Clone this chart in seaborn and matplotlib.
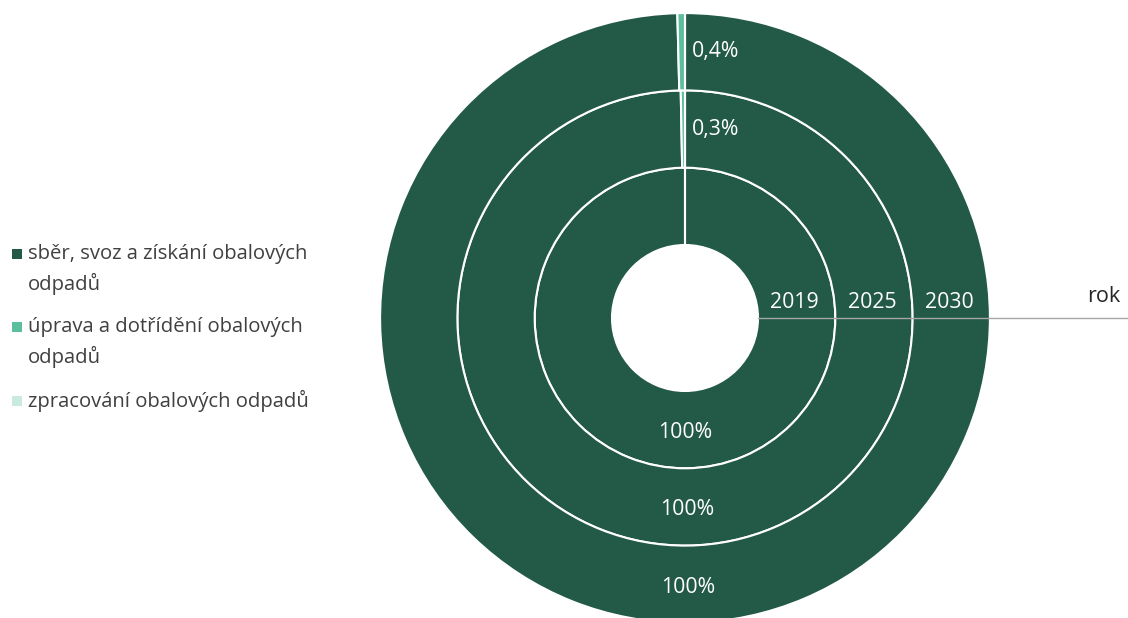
import matplotlib
matplotlib.use('Agg')
import matplotlib.pyplot as plt
import seaborn as sns
import numpy as np

# data
years = ['2019', '2025', '2030']
categories = ['sběr, svoz a získání obalových\nodpadů',
              'úprava a dotřídění obalových\nodpadů',
              'zpracování obalových odpadů']
sber = [100, 99.7, 99.6]
uprava = [0, 0.3, 0.4]
zpracovani = [0, 0, 0]
colors = ['#235947', '#5BBF9B', '#C8EBDD']

sns.set_theme(style='white')
plt.rcParams['font.family'] = ['Open Sans', 'DejaVu Sans']

fig = plt.figure(figsize=(11.28, 6.18), dpi=100)
ax = fig.add_axes([0, 0, 1, 1])

cx, cy = 685, 300
hole = 73
ring_w = 77.3
fs = 15.3

for i, year in enumerate(years):
    vals = [sber[i], uprava[i], zpracovani[i]]
    r_in = hole + i * ring_w
    r_out = r_in + ring_w
    ax.pie(vals, colors=colors, radius=r_out, center=(cx, cy),
           startangle=90, counterclock=False,
           wedgeprops=dict(width=ring_w, edgecolor='white', linewidth=1.5))
    r_mid = (r_in + r_out) / 2
    # big share label at middle of wedge (rounded like in the original)
    ang = np.deg2rad(90 - 360 * sber[i] / sum(vals) / 2)
    ax.text(cx + r_mid * np.cos(ang), cy + r_mid * np.sin(ang) - 3,
            f'{round(sber[i])}%', color='white', fontsize=fs,
            ha='center', va='center')
    if uprava[i] > 0:
        ax.text(cx + 7, cy + r_mid, f'{uprava[i]:.1f}%'.replace('.', ','),
                color='white', fontsize=fs, ha='left', va='center')
    ax.text(cx + r_mid - 2, cy + 15, year, color='white', fontsize=fs,
            ha='center', va='center')

# axis line "rok"
ax.plot([cx + hole, 1128], [cy, cy], color='#A6A6A6', lw=1)
ax.text(1104, 321, 'rok', color='#262626', fontsize=15.5,
        ha='center', va='center')

# legend
leg_y = [364, 291, 217]
for lab, col, y in zip(categories, colors, leg_y):
    ax.scatter([17], [y], marker='s', s=60, color=col, linewidths=0)
    for k, line in enumerate(lab.split('\n')):
        ax.text(28, y - 30 * k, line, color='#404040', fontsize=14.6,
                ha='left', va='center')

ax.set_xlim(0, 1128)
ax.set_ylim(0, 618)
ax.set_aspect('equal')
ax.axis('off')

fig.savefig('out.png', dpi=100)
